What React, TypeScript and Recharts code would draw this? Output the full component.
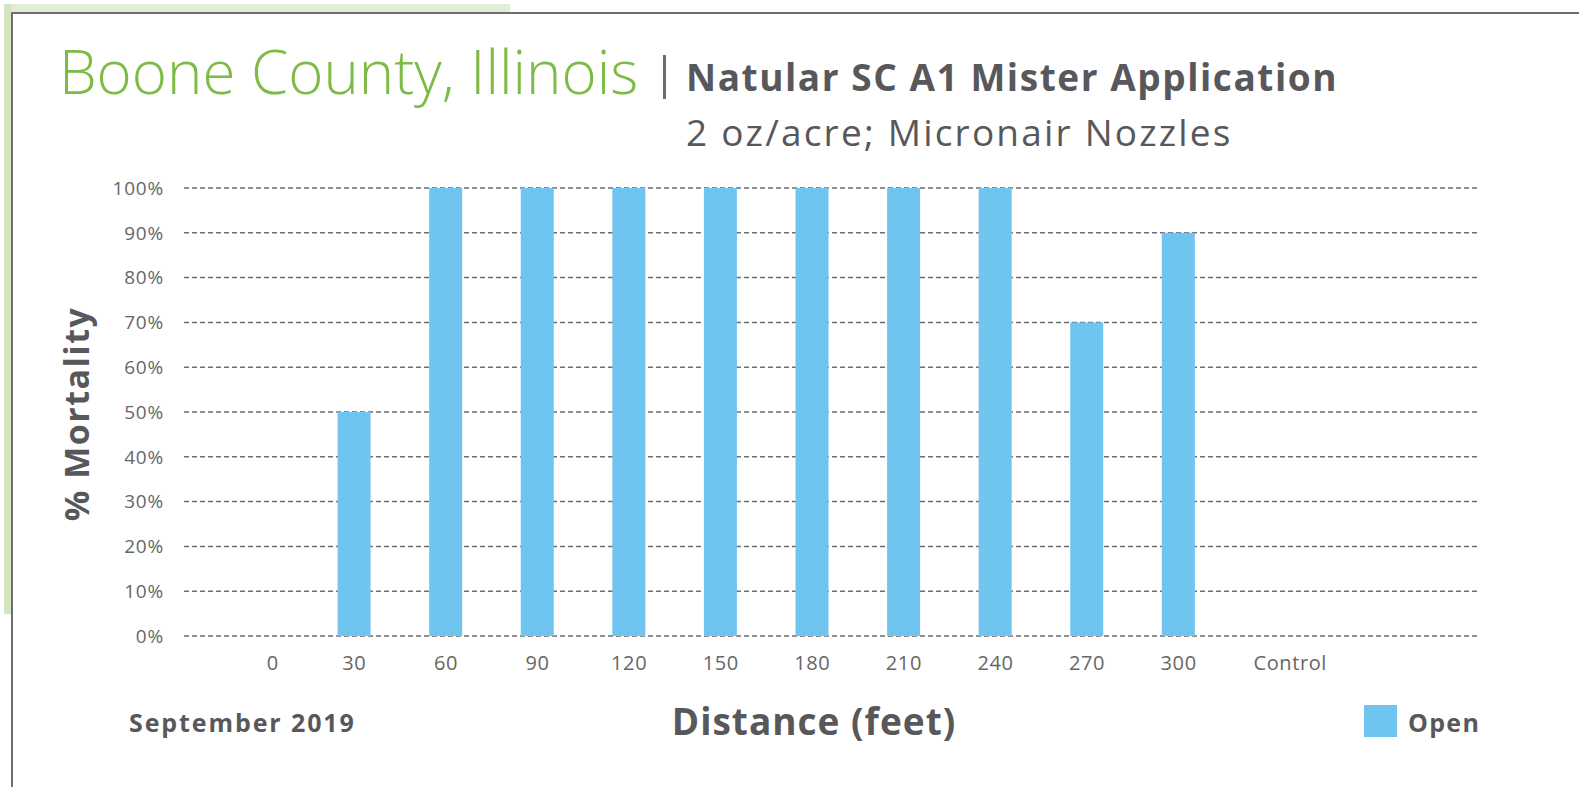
import React from 'react';
import { BarChart, Bar, XAxis, YAxis, CartesianGrid } from 'recharts';

const distances = ['0', '30', '60', '90', '120', '150', '180', '210', '240', '270', '300', 'Control'];
const openMortality = [0, 50, 100, 100, 100, 100, 100, 100, 100, 70, 90, 0];
const yTicks = [0, 10, 20, 30, 40, 50, 60, 70, 80, 90, 100];

const BLUE = '#6fc5f0';
const GRAY = '#58585b';
const FONT = '"Open Sans", "Noto Sans", sans-serif';

const chartData = distances.map((d, i) => ({ distance: d, open: openMortality[i] }));

// the first and last labels sit a little right of their columns in the original
const labelShift: Record<string, number> = { '0': 10, Control: 20 };

const textBase: React.CSSProperties = {
  position: 'absolute',
  lineHeight: 1,
  whiteSpace: 'nowrap',
  color: GRAY,
};

const DistanceTick = (props: any) => {
  const { x, y, payload } = props;
  const shift = labelShift[payload.value] ?? 0;
  return (
    <text
      x={x + shift}
      y={y}
      dy="0.71em"
      textAnchor="middle"
      fill="#666"
      fontSize={20}
      fontFamily={FONT}
      letterSpacing={0.6}
    >
      {payload.value}
    </text>
  );
};

export default function App() {
  return (
    <div
      style={{
        position: 'absolute',
        left: 0,
        top: 0,
        width: 1579,
        height: 787,
        background: '#fff',
        overflow: 'hidden',
        fontFamily: FONT,
      }}
    >
      {/* green strips behind the frame */}
      <div style={{ position: 'absolute', left: 5, top: 4, width: 505, height: 8, background: '#e1edd4' }} />
      <div style={{ position: 'absolute', left: 4, top: 4, width: 7, height: 610, background: '#d3e6c0' }} />
      {/* frame */}
      <div style={{ position: 'absolute', left: 11, top: 12, width: 1579, height: 2, background: '#6d6e71' }} />
      <div style={{ position: 'absolute', left: 11, top: 12, width: 2, height: 787, background: '#6d6e71' }} />

      {/* titles */}
      <div style={{ ...textBase, left: 59, top: 41, fontSize: 60, fontWeight: 300, color: '#7dbb46' }}>
        Boone County, Illinois
      </div>
      <div style={{ position: 'absolute', left: 663, top: 55, width: 3, height: 44, background: '#6d6e71' }} />
      <div style={{ ...textBase, left: 686, top: 58, fontSize: 37, fontWeight: 700, letterSpacing: 1.55 }}>
        Natular SC A1 Mister Application
      </div>
      <div style={{ ...textBase, left: 686, top: 113, fontSize: 37, fontWeight: 400, letterSpacing: 2.2 }}>
        2 oz/acre; Micronair Nozzles
      </div>

      {/* y-axis title */}
      <div
        style={{
          ...textBase,
          left: 76,
          top: 414,
          transform: 'translate(-50%, -50%) rotate(-90deg)',
          fontSize: 34,
          fontWeight: 700,
          letterSpacing: 1.5,
        }}
      >
        % Mortality
      </div>

      <div style={{ position: 'absolute', left: 0, top: 0 }}>
        <BarChart
          width={1579}
          height={787}
          data={chartData}
          margin={{ top: 188, right: 99, bottom: 111, left: 124 }}
        >
          <CartesianGrid
            horizontal
            vertical={false}
            stroke="#6d6e71"
            strokeWidth={1.5}
            strokeDasharray="5 3"
          />
          <XAxis
            dataKey="distance"
            padding={{ left: 33, right: 164 }}
            axisLine={false}
            tickLine={false}
            tickMargin={14}
            height={40}
            interval={0}
            tick={<DistanceTick />}
          />
          <YAxis
            width={60}
            domain={[0, 100]}
            ticks={yTicks}
            axisLine={false}
            tickLine={false}
            tickMargin={14}
            tickFormatter={(v: number) => `${v}%`}
            tick={{ fill: '#666', fontSize: 19, fontFamily: FONT, letterSpacing: 0.8 }}
          />
          <Bar dataKey="open" name="Open" fill={BLUE} barSize={33} isAnimationActive={false} />
        </BarChart>
      </div>

      {/* bottom labels */}
      <div style={{ ...textBase, left: 129, top: 710, fontSize: 25, fontWeight: 700, letterSpacing: 1.9 }}>
        September 2019
      </div>
      <div
        style={{
          ...textBase,
          left: 814,
          top: 702,
          transform: 'translateX(-50%)',
          fontSize: 37,
          fontWeight: 700,
          letterSpacing: 1,
        }}
      >
        Distance (feet)
      </div>
      <div style={{ position: 'absolute', left: 1364, top: 705, width: 33, height: 32, background: BLUE }} />
      <div style={{ ...textBase, left: 1408, top: 710, fontSize: 25, fontWeight: 700, letterSpacing: 1.3 }}>
        Open
      </div>
    </div>
  );
}
